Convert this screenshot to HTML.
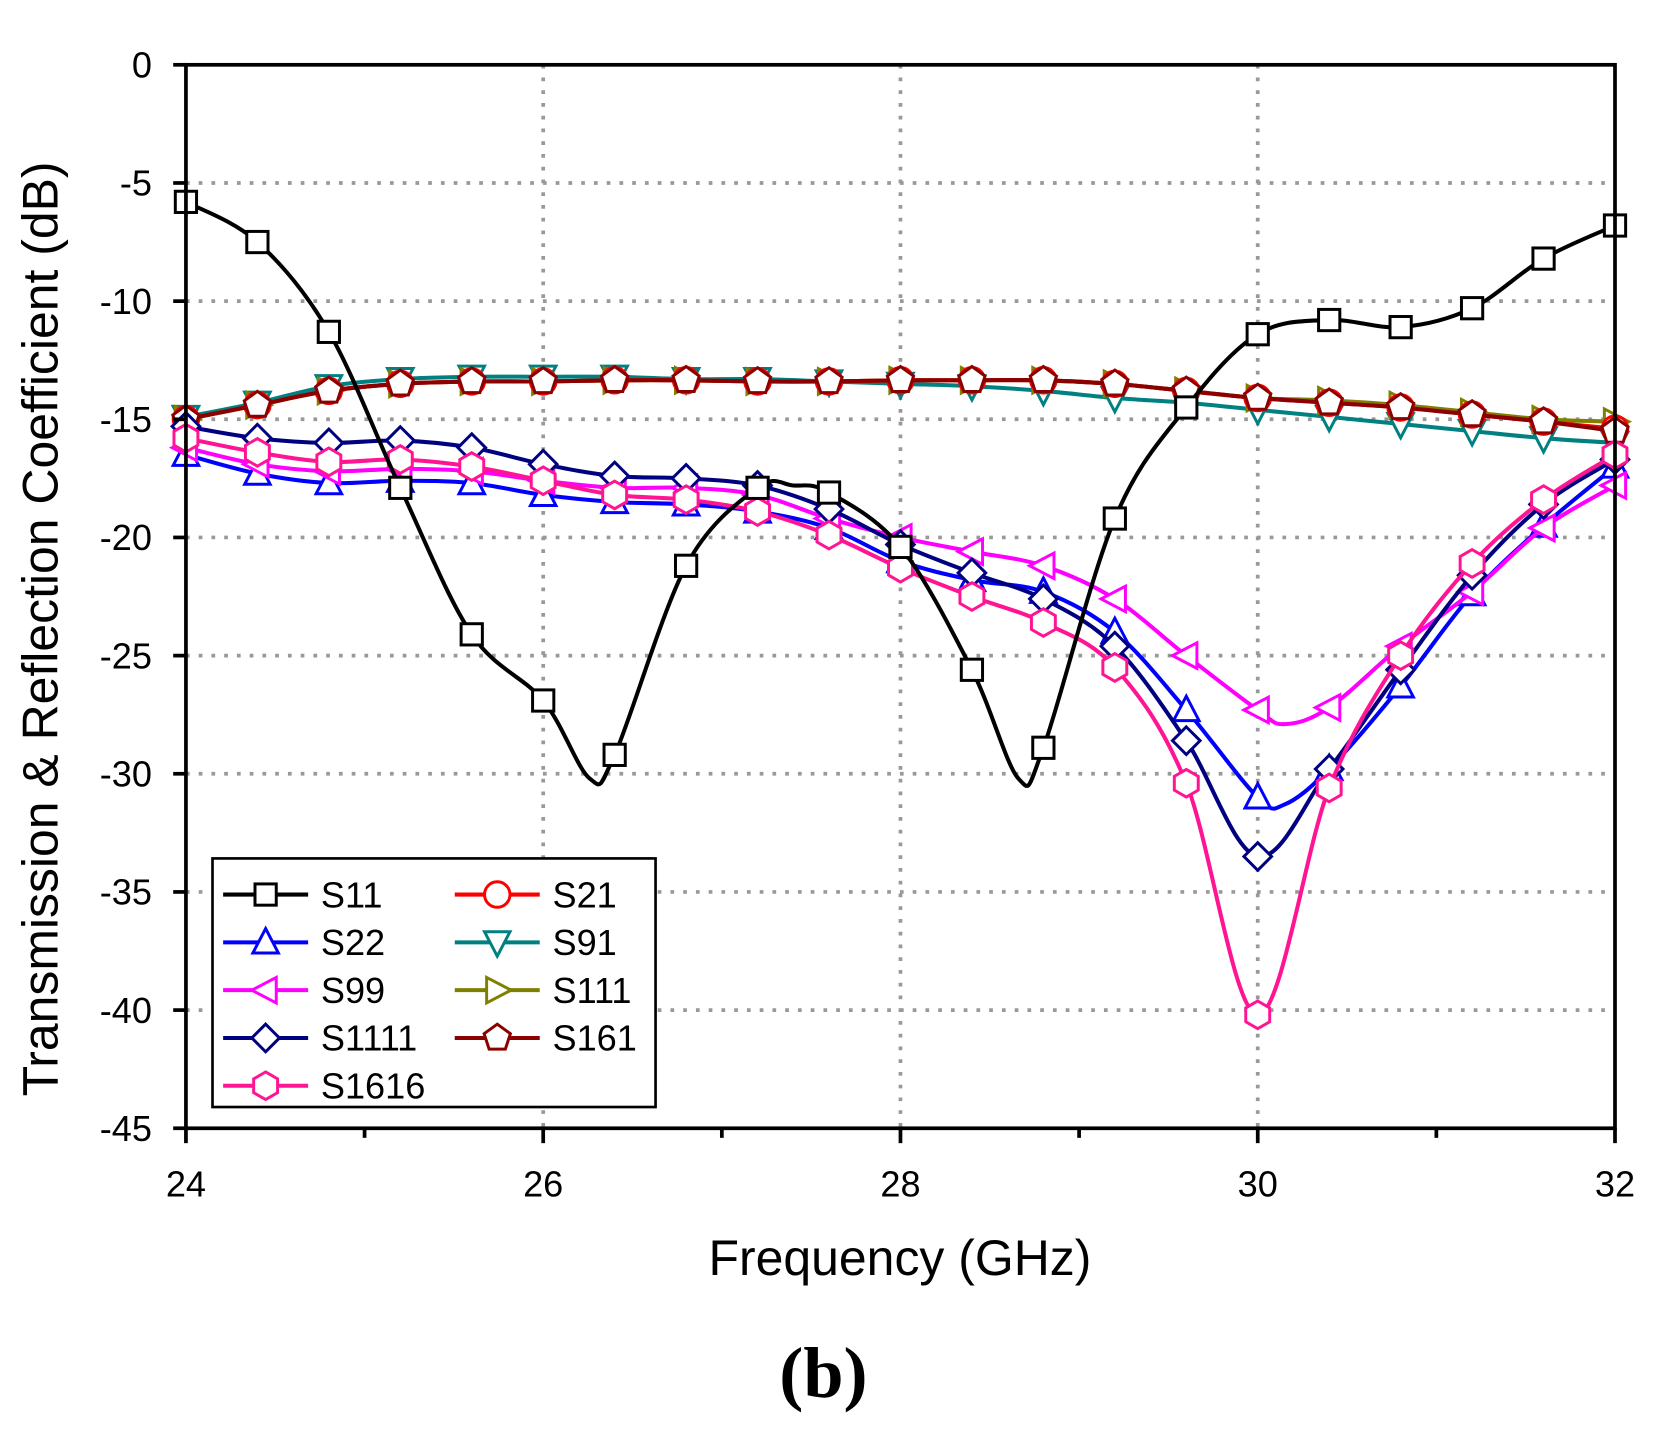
<!DOCTYPE html>
<html><head><meta charset="utf-8"><style>html,body{margin:0;padding:0;background:#fff}svg{display:block}</style></head>
<body>
<svg id="s" width="1666" height="1430" viewBox="0 0 1568 1346" preserveAspectRatio="none" xmlns="http://www.w3.org/2000/svg" font-family="Liberation Sans, sans-serif">
<rect width="1568" height="1346" fill="#fff"/>
<g id="grid" stroke="#999" stroke-width="3.5" stroke-dasharray="3.5,8.5"></g>
<g id="series"></g>
<rect x="175" y="61" width="1345" height="1001" fill="none" stroke="#000" stroke-width="3.5"/>
<g id="ticks" stroke="#000" stroke-width="3.5"></g>
<g id="labels" font-size="34" fill="#000"></g>
<text x="847" y="1200" font-size="47" text-anchor="middle">Frequency (GHz)</text>
<text transform="translate(54,592) rotate(-90)" font-size="47" text-anchor="middle">Transmission &amp; Reflection Coefficient (dB)</text>
<text x="775" y="1315" font-size="68" font-weight="bold" text-anchor="middle" font-family="Liberation Serif, serif">(b)</text>
<rect x="200" y="808" width="417" height="234" fill="#fff" stroke="#000" stroke-width="2.5"/>
<g id="legend" font-size="34"></g>
</svg>
<script>
const X=f=>175+(f-24)*168.125, Y=d=>61-d*22.244;
const NS="http://www.w3.org/2000/svg";
function el(p,t,a,txt){const e=document.createElementNS(NS,t);for(const k in a)e.setAttribute(k,a[k]);if(txt!==undefined)e.textContent=txt;document.getElementById(p).appendChild(e);return e;}
for(const f of [26,28,30])el("grid","line",{x1:X(f),x2:X(f),y1:61,y2:1062});
for(let d=-5;d>=-40;d-=5)el("grid","line",{x1:175,x2:1520,y1:Y(d),y2:Y(d)});
for(let d=0;d>=-45;d-=5){el("ticks","line",{x1:163,x2:175,y1:Y(d),y2:Y(d)});el("labels","text",{x:143,y:Y(d)+12,"text-anchor":"end"},String(d));}
for(let f=24;f<=32;f++){el("ticks","line",{x1:X(f),x2:X(f),y1:1062,y2:f%2?1071:1076});if(f%2==0)el("labels","text",{x:X(f),y:1126,"text-anchor":"middle"},String(f));}
const fs=[];for(let i=0;i<=20;i++)fs.push(24+i*0.4);
function path(pts){let d=`M${pts[0][0]},${pts[0][1]}`;for(let i=0;i<pts.length-1;i++){const p0=pts[i-1]||pts[i],p1=pts[i],p2=pts[i+1],p3=pts[i+2]||p2;
d+=` C${p1[0]+(p2[0]-p0[0])/6},${p1[1]+(p2[1]-p0[1])/6} ${p2[0]-(p3[0]-p1[0])/6},${p2[1]-(p3[1]-p1[1])/6} ${p2[0]},${p2[1]}`;}return d;}
function marker(g,type,x,y,c){let a={fill:"#fff",stroke:c,"stroke-width":2.8};
if(type=="sq")el(g,"rect",Object.assign({x:x-10,y:y-10,width:20,height:20},a));
else if(type=="ci")el(g,"circle",Object.assign({cx:x,cy:y,r:12},a));
else{let pts;
if(type=="up")pts=[[0,-13],[12,10],[-12,10]];
else if(type=="dn")pts=[[0,13],[12,-10],[-12,-10]];
else if(type=="lt")pts=[[-13,0],[10,-12],[10,12]];
else if(type=="rt")pts=[[13,0],[-10,-12],[-10,12]];
else if(type=="di")pts=[[0,-13],[13,0],[0,13],[-13,0]];
else if(type=="pe"){pts=[];for(let k=0;k<5;k++){const t=-Math.PI/2+k*2*Math.PI/5;pts.push([13*Math.cos(t),13*Math.sin(t)]);}}
else if(type=="hx"){pts=[];for(let k=0;k<6;k++){const t=-Math.PI/2+k*Math.PI/3;pts.push([13*Math.cos(t),13*Math.sin(t)]);}}
el(g,"polygon",Object.assign({points:pts.map(p=>(x+p[0])+","+(y+p[1])).join(" ")},a));}}
const flat=[-15,-14.4,-13.8,-13.5,-13.4,-13.4,-13.35,-13.35,-13.4,-13.4,-13.35,-13.35,-13.35,-13.5,-13.8,-14.1,-14.3,-14.5,-14.8,-15.1];
const S=[
{n:"S91",c:"#008080",m:"dn",d:[-14.9,-14.3,-13.6,-13.3,-13.2,-13.2,-13.2,-13.3,-13.3,-13.4,-13.5,-13.6,-13.8,-14.1,-14.3,-14.6,-14.9,-15.2,-15.5,-15.8,-16.0]},
{n:"S111",c:"#808000",m:"rt",d:flat.concat([-15.2]).map((v,i)=>i>15?v+0.1:v)},
{n:"S21",c:"#ff0000",m:"ci",d:flat.concat([-15.4])},
{n:"S161",c:"#8b0000",m:"pe",d:flat.concat([-15.5])},
{n:"S22",c:"#0000ff",m:"up",d:[-16.5,-17.3,-17.7,-17.6,-17.7,-18.2,-18.5,-18.6,-18.9,-19.6,-21,-21.8,-22.3,-24,-27.3,-31,-29.8,-26.3,-22.4,-19.5,-17],ex:[[30.15,-31.3]]},
{n:"S99",c:"#ff00ff",m:"lt",d:[-16.2,-16.9,-17.2,-17.1,-17.2,-17.6,-17.9,-17.9,-18.2,-19.2,-20,-20.6,-21.2,-22.6,-25,-27.3,-27.2,-24.6,-22.3,-19.6,-17.8],ex:[[30.15,-27.9]]},
{n:"S1111",c:"#000080",m:"di",d:[-15.3,-15.8,-16,-15.9,-16.2,-16.9,-17.4,-17.5,-17.8,-18.8,-20.3,-21.5,-22.6,-24.6,-28.6,-33.5,-29.8,-25.6,-21.6,-18.6,-16.7]},
{n:"S1616",c:"#ff1493",m:"hx",d:[-15.8,-16.4,-16.8,-16.7,-17,-17.6,-18.2,-18.4,-18.9,-19.9,-21.3,-22.5,-23.6,-25.5,-30.4,-40.2,-30.6,-25,-21.1,-18.4,-16.5]},
{n:"S11",c:"#000000",m:"sq",d:[-5.8,-7.5,-11.3,-17.9,-24.1,-26.9,-29.2,-21.2,-17.9,-18.1,-20.4,-25.6,-28.9,-19.2,-14.5,-11.4,-10.8,-11.1,-10.3,-8.2,-6.8],ex:[[26.26,-30.2],[27.4,-17.8],[28.66,-30.2]]}
];
for(const s of S){let pts=fs.map((f,i)=>[f,s.d[i]]);if(s.ex)pts=pts.concat(s.ex);pts.sort((a,b)=>a[0]-b[0]);
el("series","path",{d:path(pts.map(p=>[X(p[0]),Y(p[1])])),fill:"none",stroke:s.c,"stroke-width":3.8});
fs.forEach((f,i)=>marker("series",s.m,X(f),Y(s.d[i]),s.c));}
const L=[["S11","#000","sq",0,0],["S21","#ff0000","ci",1,0],["S22","#0000ff","up",0,1],["S91","#008080","dn",1,1],["S99","#ff00ff","lt",0,2],["S111","#808000","rt",1,2],["S1111","#000080","di",0,3],["S161","#8b0000","pe",1,3],["S1616","#ff1493","hx",0,4]];
for(const [n,c,m,col,row] of L){const x0=col?428:210,y=842+row*45;
el("legend","line",{x1:x0,x2:x0+80,y1:y,y2:y,stroke:c,"stroke-width":3.8});marker("legend",m,x0+40,y,c);
el("legend","text",{x:x0+92,y:y+12},n);}
</script>
</body></html>
